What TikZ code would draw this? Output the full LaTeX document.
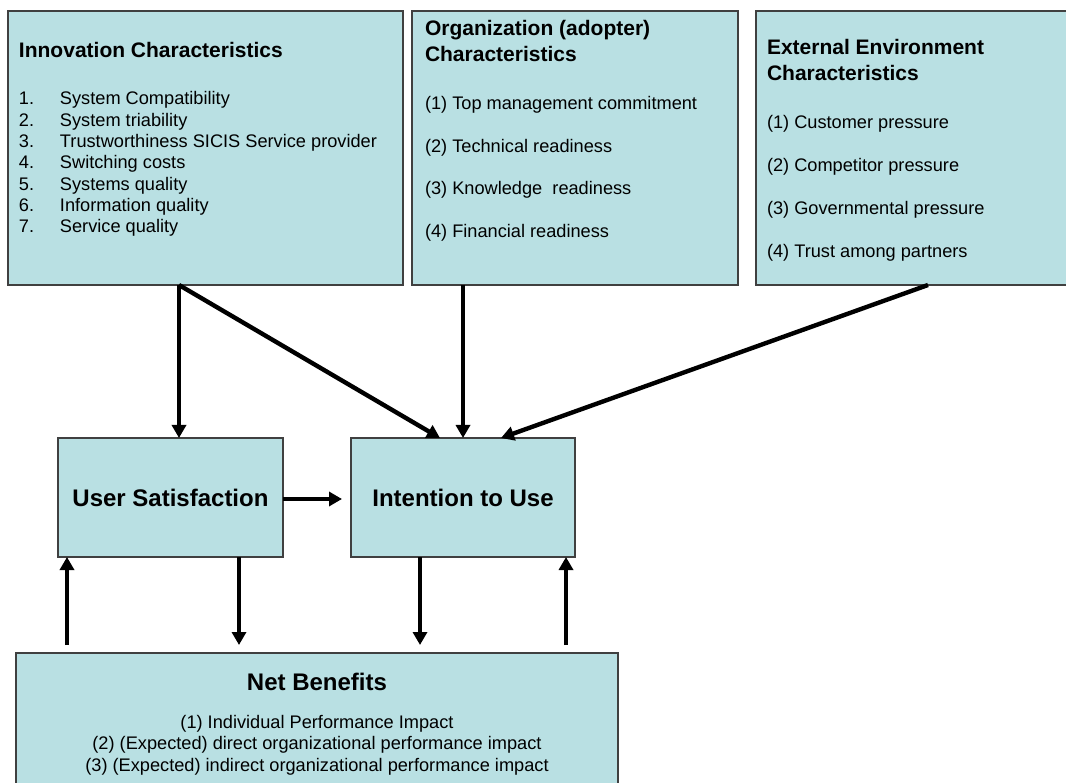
\documentclass[tikz,border=0pt]{standalone}
\usepackage{fontspec}
\setmainfont{Liberation Sans}
\usetikzlibrary{arrows.meta}
\definecolor{boxfill}{RGB}{185,224,227}
\definecolor{boxline}{RGB}{64,64,64}
\newcommand{\mybody}{\fontsize{18.2}{21.3}\selectfont}
\newcommand{\myhead}{\fontsize{21}{25.5}\selectfont\bfseries}
\newcommand{\mybig}{\fontsize{24}{28}\selectfont\bfseries}
\begin{document}
\begin{tikzpicture}[x=1pt,y=-1pt,
  box/.style={draw=boxline, fill=boxfill, line width=1.4pt, rectangle, inner sep=0pt, outer sep=0pt, anchor=north west},
  txt/.style={inner sep=0pt, outer sep=0pt, anchor=base west},
  arr/.style={line width=4.4pt, -{Triangle[length=13pt,width=14pt]}}
]
\useasboundingbox[fill=white] (0,0) rectangle (1066,783);

% boxes
\node[box, minimum width=395pt, minimum height=274pt] (innov) at (8,11) {};
\node[box, minimum width=326pt, minimum height=274pt] (org) at (412,11) {};
\node[box, minimum width=330pt, minimum height=274pt] (ext) at (756,11) {};
\node[box, minimum width=225pt, minimum height=119pt, font=\mybig] (us) at (58,438) {User Satisfaction};
\node[box, minimum width=224pt, minimum height=119pt, font=\mybig] (intent) at (351,438) {Intention to Use};
\node[box, minimum width=602pt, minimum height=150pt] (net) at (16,653) {};

% texts
\node[txt] (innovT) at (19,58) {\myhead Innovation Characteristics};
\node[txt] (innovL) at (19,105) {\mybody\begin{tabular}[t]{@{}p{41pt}@{}l@{}}
1.& System Compatibility\\
2.& System triability\\
3.& Trustworthiness SICIS Service provider\\
4.& Switching costs\\
5.& Systems quality\\
6.& Information quality\\
7.& Service quality
\end{tabular}};

\node[txt] (orgT) at (425,36) {\myhead\begin{tabular}[t]{@{}l@{}}Organization (adopter)\\Characteristics\end{tabular}};
\node[txt] (orgL) at (425,110) {\fontsize{18.2}{42.5}\selectfont\begin{tabular}[t]{@{}l@{}}
(1) Top management commitment\\
(2) Technical readiness\\
(3) Knowledge\ \ readiness\\
(4) Financial readiness
\end{tabular}};

\node[txt] (extT) at (767,55) {\myhead\begin{tabular}[t]{@{}l@{}}External Environment\\Characteristics\end{tabular}};
\node[txt] (extL) at (767,128.5) {\fontsize{18.2}{43}\selectfont\begin{tabular}[t]{@{}l@{}}
(1) Customer pressure\\
(2) Competitor pressure\\
(3) Governmental pressure\\
(4) Trust among partners
\end{tabular}};

\node[inner sep=0pt, outer sep=0pt, anchor=base] (netT) at (317,690) {\mybig Net Benefits};
\node[inner sep=0pt, outer sep=0pt, anchor=base] (netL) at (317,728) {\fontsize{18.2}{21.7}\selectfont\begin{tabular}[t]{@{}c@{}}
(1) Individual Performance Impact\\
(2) (Expected) direct organizational performance impact\\
(3) (Expected) indirect organizational performance impact
\end{tabular}};

% connectors
\draw[arr] ([xshift=171pt]innov.south west) -- ([xshift=121pt]us.north west);
\draw[arr] ([xshift=171pt]innov.south west) -- ([xshift=89pt]intent.north west);
\draw[arr] ([xshift=51pt]org.south west) -- ([xshift=112pt]intent.north west);
\draw[arr] ([xshift=172pt]ext.south west) -- ([xshift=150pt]intent.north west);
\draw[arr] ([yshift=-1.5pt]us.east) -- ([xshift=-9pt,yshift=-1.5pt]intent.west);
\draw[arr] ([xshift=51pt,yshift=8pt]net.north west) -- ([xshift=9pt]us.south west);
\draw[arr] ([xshift=181pt]us.south west) -- ([xshift=223pt,yshift=8pt]net.north west);
\draw[arr] ([xshift=69pt]intent.south west) -- ([xshift=404pt,yshift=8pt]net.north west);
\draw[arr] ([xshift=550pt,yshift=8pt]net.north west) -- ([xshift=215pt]intent.south west);
\end{tikzpicture}
\end{document}
